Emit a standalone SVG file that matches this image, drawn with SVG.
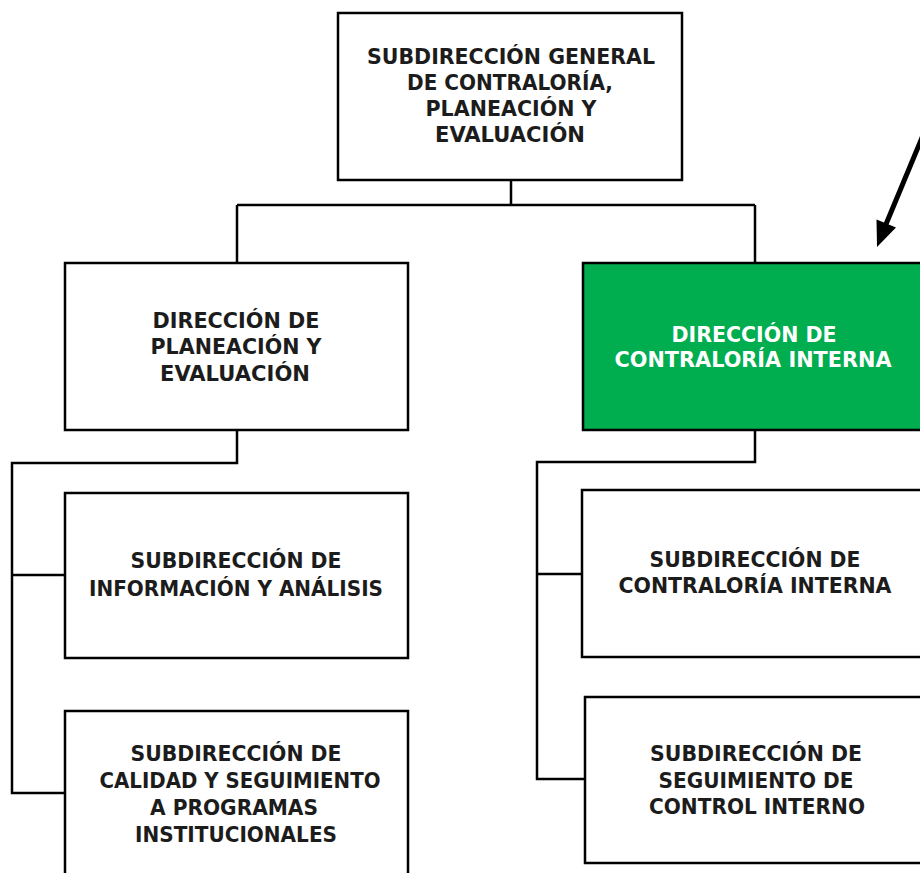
<svg xmlns="http://www.w3.org/2000/svg" width="920" height="873" viewBox="0 0 920 873">
<style>
.box{fill:#ffffff;stroke:#000000;stroke-width:2.5}
.green{fill:#00AD4F;stroke:#000000;stroke-width:2.5}
.t{font-family:"DejaVu Sans","Liberation Sans",sans-serif;font-weight:bold;font-size:20.5px;fill:#1c1c1c;text-anchor:middle}
.w{fill:#ffffff}
.conn{fill:none;stroke:#000000;stroke-width:2.5}
</style>
<rect width="920" height="873" fill="#ffffff"/>
<g id="connectors">
<path class="conn" d="M511,180 V205 M237,205 H755 M237,205 V263 M755,205 V263"/>
<path class="conn" d="M237,430 V463 H12 V793 H65 M12,575 H65"/>
<path class="conn" d="M755,430 V462 H537 V779 H585 M537,574 H582"/>
<path d="M926,128 L884,229" stroke="#000" stroke-width="5" fill="none"/>
<polygon points="877,247 896,227.5 876.5,219.5" fill="#000"/>
</g>
<g id="n-top">
<rect class="box" x="338" y="13" width="344" height="167"/>
<text class="t" x="511" y="64" textLength="288" lengthAdjust="spacingAndGlyphs">SUBDIRECCIÓN GENERAL</text>
<text class="t" x="510" y="90" textLength="206" lengthAdjust="spacingAndGlyphs">DE CONTRALORÍA,</text>
<text class="t" x="511" y="116" textLength="171" lengthAdjust="spacingAndGlyphs">PLANEACIÓN Y</text>
<text class="t" x="510" y="142" textLength="150" lengthAdjust="spacingAndGlyphs">EVALUACIÓN</text>
</g>
<g id="n-planeacion">
<rect class="box" x="65" y="263" width="343" height="167"/>
<text class="t" x="236" y="328" textLength="167" lengthAdjust="spacingAndGlyphs">DIRECCIÓN DE</text>
<text class="t" x="236" y="354" textLength="171" lengthAdjust="spacingAndGlyphs">PLANEACIÓN Y</text>
<text class="t" x="235" y="381" textLength="150" lengthAdjust="spacingAndGlyphs">EVALUACIÓN</text>
</g>
<g id="n-contraloria">
<rect class="green" x="583" y="263" width="345" height="167"/>
<text class="t w" x="754" y="342" textLength="165" lengthAdjust="spacingAndGlyphs">DIRECCIÓN DE</text>
<text class="t w" x="753" y="367" textLength="277" lengthAdjust="spacingAndGlyphs">CONTRALORÍA INTERNA</text>
</g>
<g id="n-informacion">
<rect class="box" x="65" y="493" width="343" height="165"/>
<text class="t" x="236" y="568" textLength="211" lengthAdjust="spacingAndGlyphs">SUBDIRECCIÓN DE</text>
<text class="t" x="236" y="596" textLength="294" lengthAdjust="spacingAndGlyphs">INFORMACIÓN Y ANÁLISIS</text>
</g>
<g id="n-calidad">
<rect class="box" x="65" y="711" width="343" height="180"/>
<text class="t" x="236" y="761" textLength="211" lengthAdjust="spacingAndGlyphs">SUBDIRECCIÓN DE</text>
<text class="t" x="240" y="788" textLength="281" lengthAdjust="spacingAndGlyphs">CALIDAD Y SEGUIMIENTO</text>
<text class="t" x="234" y="815" textLength="168" lengthAdjust="spacingAndGlyphs">A PROGRAMAS</text>
<text class="t" x="236" y="842" textLength="202" lengthAdjust="spacingAndGlyphs">INSTITUCIONALES</text>
</g>
<g id="n-sub-contraloria">
<rect class="box" x="582" y="490" width="346" height="167"/>
<text class="t" x="755" y="567" textLength="211" lengthAdjust="spacingAndGlyphs">SUBDIRECCIÓN DE</text>
<text class="t" x="755" y="593" textLength="273" lengthAdjust="spacingAndGlyphs">CONTRALORÍA INTERNA</text>
</g>
<g id="n-seguimiento">
<rect class="box" x="585" y="697" width="343" height="166"/>
<text class="t" x="756" y="761" textLength="212" lengthAdjust="spacingAndGlyphs">SUBDIRECCIÓN DE</text>
<text class="t" x="756" y="788" textLength="195" lengthAdjust="spacingAndGlyphs">SEGUIMIENTO DE</text>
<text class="t" x="757" y="814" textLength="216" lengthAdjust="spacingAndGlyphs">CONTROL INTERNO</text>
</g>
</svg>
